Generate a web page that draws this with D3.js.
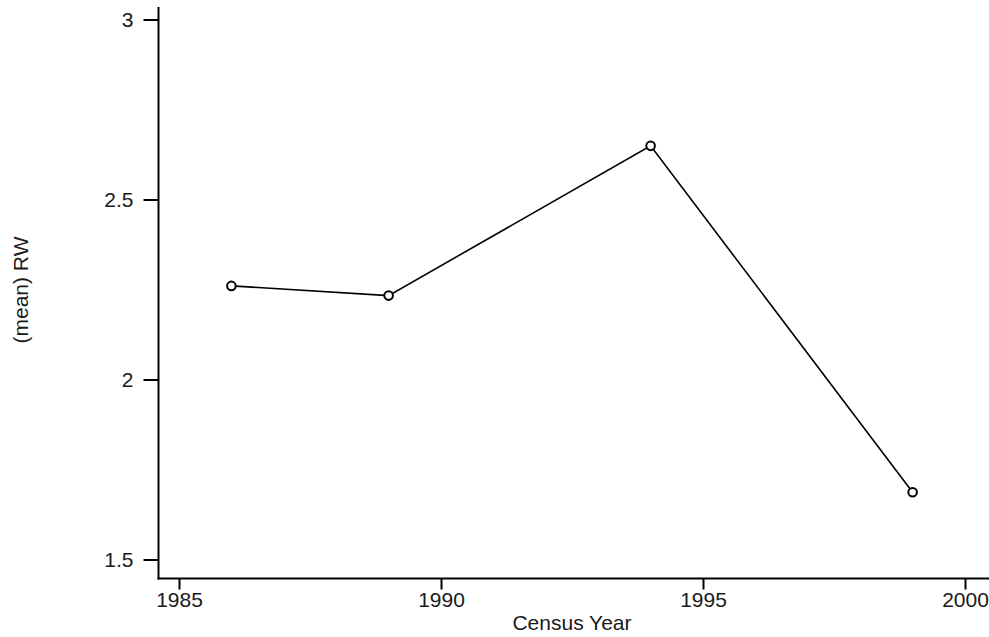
<!DOCTYPE html>
<html>
<head>
<meta charset="utf-8">
<script src="https://cdn.jsdelivr.net/npm/d3@7"></script>
<style>
  body { margin: 0; background: #fff; }
  text { font-family: "Liberation Sans", Arial, sans-serif; }
</style>
</head>
<body>
<div id="chart"></div>
<script>
// data
const years = [1986, 1989, 1994, 1999];
const meanRW = [2.26, 2.233, 2.649, 1.687];
const xTicks = [1985, 1990, 1995, 2000];
const yTicks = [1.5, 2, 2.5, 3];

const outerWidth = 989;
const outerHeight = 637;
const fontSize = 21;

const svg = d3.select("#chart")
    .append("svg")
    .attr("width", outerWidth)
    .attr("height", outerHeight);

// scales: 1985 -> 179, 2000 -> 965 ; 3 -> 19.5, 1.5 -> 559.5
const xScale = d3.scaleLinear()
    .domain([1985, 2000])
    .range([179, 965]);

const yScale = d3.scaleLinear()
    .domain([1.5, 3])
    .range([559.5, 19.5]);

const axisX = 158.5, axisY = 578.5;

// y axis
const yAxis = svg.append("g")
    .attr("transform", `translate(${axisX},0)`)
    .call(d3.axisLeft(yScale).tickValues(yTicks).tickFormat(d3.format("")).tickSize(15).tickPadding(10).tickSizeOuter(0));
yAxis.select(".domain").remove();
yAxis.append("line")
    .attr("x1", 0).attr("x2", 0)
    .attr("y1", 7).attr("y2", axisY + 1)
    .attr("stroke", "#000").attr("stroke-width", 2);

// x axis
const xAxis = svg.append("g")
    .attr("transform", `translate(0,${axisY})`)
    .call(d3.axisBottom(xScale).tickValues(xTicks).tickFormat(d3.format("d")).tickSize(11).tickPadding(3).tickSizeOuter(0));
xAxis.select(".domain").remove();
xAxis.append("line")
    .attr("x1", axisX - 1).attr("x2", outerWidth)
    .attr("y1", 0).attr("y2", 0)
    .attr("stroke", "#000").attr("stroke-width", 2);

svg.selectAll(".tick line").attr("stroke", "#000").attr("stroke-width", 2);
svg.selectAll(".tick text").attr("font-size", fontSize).attr("fill", "#1a1a1a")
    .attr("font-family", "Liberation Sans, Arial, sans-serif");

// axis titles
svg.append("text")
    .attr("x", 572).attr("y", 630)
    .attr("text-anchor", "middle")
    .attr("font-size", fontSize).attr("fill", "#1a1a1a")
    .text("Census Year");

svg.append("text")
    .attr("transform", `translate(28,290) rotate(-90)`)
    .attr("text-anchor", "middle")
    .attr("font-size", fontSize).attr("fill", "#1a1a1a")
    .text("(mean) RW");

// line + markers
const pts = years.map((y, i) => ({year: y, value: meanRW[i]}));

const line = d3.line()
    .x(d => xScale(d.year))
    .y(d => yScale(d.value));

svg.append("path")
    .datum(pts)
    .attr("fill", "none")
    .attr("stroke", "#000")
    .attr("stroke-width", 1.6)
    .attr("d", line);

svg.selectAll(".pt")
    .data(pts)
    .join("circle")
    .attr("class", "pt")
    .attr("cx", d => xScale(d.year))
    .attr("cy", d => yScale(d.value))
    .attr("r", 4.3)
    .attr("fill", "#fff")
    .attr("stroke", "#000")
    .attr("stroke-width", 2);
</script>
</body>
</html>
